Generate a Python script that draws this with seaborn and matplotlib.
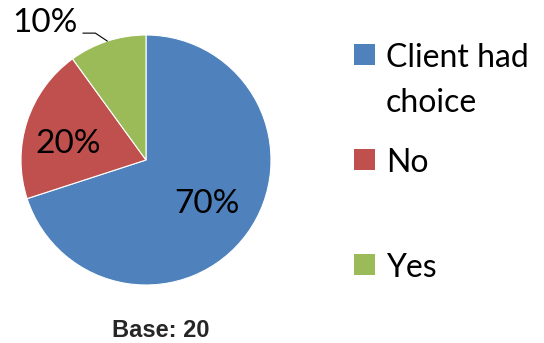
import numpy as np
import matplotlib
matplotlib.use("Agg")
import matplotlib.pyplot as plt
from matplotlib.patches import Rectangle
import seaborn as sns

# Survey responses
categories = ["Client had choice", "No", "Yes"]
legend_labels = ["Client had\nchoice", "No", "Yes"]
shares = [70, 20, 10]
base_n = 20

colors = ["#4F81BD", "#C0504D", "#9BBB59"]

sns.set_theme(style="white")
plt.rcParams["font.family"] = ["Lato", "DejaVu Sans"]

W, H = 544, 343
fig = plt.figure(figsize=(W / 100, H / 100), dpi=100)
fig.patch.set_facecolor("white")

# Pie: centre (146, 160) px, radius 125 px
cx, cy, r = 146, 160, 125
ax = fig.add_axes([(cx - r) / W, (H - cy - r) / H, 2 * r / W, 2 * r / H])
wedges, _, autotexts = ax.pie(
    shares,
    colors=colors,
    startangle=90,
    counterclock=False,
    autopct=lambda p: f"{p:.0f}%",
    pctdistance=0.6,
    wedgeprops=dict(edgecolor="white", linewidth=0.8),
    textprops=dict(fontsize=24, color="black"),
)
ax.set_xlim(-1, 1)
ax.set_ylim(-1, 1)
ax.set_aspect("auto")
ax.axis("off")

# Inside label for the "No" slice sits a little lower and further out
autotexts[1].set_position((-0.625, 0.13))

# Small slice: label outside with a leader line to the slice edge
w = wedges[2]
mid = np.deg2rad((w.theta1 + w.theta2) / 2)
ex, ey = np.cos(mid) * 1.0, np.sin(mid) * 1.0
autotexts[2].set_position((-0.81, 1.10))
ax.plot([-0.505, -0.405, ex], [1.015, 1.015, ey], color="black", lw=0.8,
        clip_on=False)

# Legend drawn as coloured squares with text beside them
sq = 21
rows = [65, 170, 275]
line_gap = 45
for baseline, lab, col in zip(rows, legend_labels, colors):
    fig.add_artist(Rectangle((354 / W, (H - baseline) / H), sq / W, sq / H,
                             transform=fig.transFigure, facecolor=col,
                             edgecolor="none"))
    for i, line in enumerate(lab.split("\n")):
        y = baseline + 2 + i * line_gap
        fig.text(386 / W, (H - y) / H, line, fontsize=23, va="baseline",
                 ha="left", color="black")

fig.text(161 / W, (H - 337) / H, f"Base: {base_n}", fontsize=17,
         fontweight="bold", ha="center", va="baseline",
         family=["Liberation Sans", "DejaVu Sans"])

fig.savefig("out.png", dpi=100, facecolor="white")
